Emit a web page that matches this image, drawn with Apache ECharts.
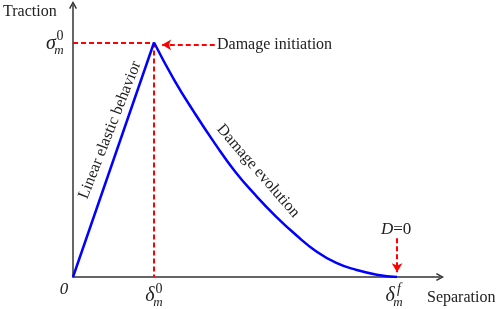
<!DOCTYPE html>
<html>
<head>
<meta charset="utf-8">
<script src="https://cdn.jsdelivr.net/npm/echarts@6/dist/echarts.min.js"></script>
<style>
  html, body { margin: 0; padding: 0; background: #fff; }
  #chart { width: 498px; height: 309px; }
</style>
</head>
<body>
<div id="chart"></div>
<script>
// separation in units of delta_m^0, traction in units of sigma_m^0
var delta0 = 1;
var deltaF = 4;
var sigma0 = 1;

// linear elastic branch
var linearX = [0, 1];
var linearY = [0, 1];

// damage evolution branch
var damageX = [1, 1.25, 1.5, 1.75, 2, 2.25, 2.5, 2.75, 3, 3.25, 3.5, 3.75, 4];
var damageY = [1, 0.84, 0.70, 0.57, 0.45, 0.35, 0.26, 0.18, 0.11, 0.06, 0.03, 0.01, 0];

var serif = "Liberation Serif";
var blue = "#0000ff";
var red = "#ff0000";
var ink = "#222";

var chart = echarts.init(document.getElementById("chart"));

function zip(xs, ys) {
  return xs.map(function (x, i) { return [x, ys[i]]; });
}

// open chevron for the axis ends
var chevron = "path://M0,9 L5,0 L10,9 L8.4,10 L5,3.6 L1.6,10 Z";

var option = {
  backgroundColor: "#fff",
  animation: false,
  grid: { left: 73, right: 58, top: 5, bottom: 32 },
  xAxis: {
    type: "value",
    min: 0,
    max: 4.53,
    axisLine: {
      show: true,
      symbol: ["none", chevron],
      symbolSize: [9, 8],
      lineStyle: { color: "#333", width: 1.5 }
    },
    axisTick: { show: false },
    axisLabel: { show: false },
    splitLine: { show: false }
  },
  yAxis: {
    type: "value",
    min: 0,
    max: 1.16,
    axisLine: {
      show: true,
      symbol: ["none", chevron],
      symbolSize: [9, 8],
      lineStyle: { color: "#333", width: 1.5 }
    },
    axisTick: { show: false },
    axisLabel: { show: false },
    splitLine: { show: false }
  },
  series: [
    {
      type: "line",
      data: zip(linearX, linearY),
      symbol: "none",
      lineStyle: { color: blue, width: 2.5 },
      z: 5,
      markLine: {
        silent: true,
        symbol: ["none", "none"],
        label: { show: false },
        lineStyle: { color: red, width: 2, type: [5, 3] },
        data: [
          [{ coord: [0, sigma0] }, { coord: [delta0, sigma0] }],
          [{ coord: [delta0, sigma0] }, { coord: [delta0, 0] }]
        ]
      }
    },
    {
      type: "line",
      data: zip(damageX, damageY),
      smooth: true,
      symbol: "none",
      lineStyle: { color: blue, width: 2.5 },
      z: 5,
      markLine: {
        silent: true,
        symbol: ["none", "arrow"],
        symbolSize: [8, 9],
        label: { show: false },
        lineStyle: { color: red, width: 2, type: [5, 3] },
        data: [
          [{ coord: [1.75, 0.99] }, { coord: [1.1, 0.99] }],
          [{ coord: [deltaF, 0.165] }, { coord: [deltaF, 0.02] }]
        ]
      }
    }
  ]
};

chart.setOption(option);

// symbol with superscript and subscript, anchored at a pixel point
function mathLabel(x, y, base, sup, sub, supItalic) {
  return {
    type: "group",
    x: x,
    y: y,
    children: [
      { type: "text", x: 0, y: 0, style: { text: base, font: "italic 20px " + serif, fill: ink, verticalAlign: "middle", align: "center" } },
      { type: "text", x: 9, y: -7, style: { text: sup, font: (supItalic ? "italic " : "") + "14px " + serif, fill: ink, verticalAlign: "middle", align: "center" } },
      { type: "text", x: 8, y: 7, style: { text: sub, font: "italic 13px " + serif, fill: ink, verticalAlign: "middle", align: "center" } }
    ]
  };
}

var peak = chart.convertToPixel({ gridIndex: 0 }, [delta0, sigma0]);
var origin = chart.convertToPixel({ gridIndex: 0 }, [0, 0]);
var fail = chart.convertToPixel({ gridIndex: 0 }, [deltaF, 0]);

chart.setOption({
  graphic: [
    { type: "text", left: 3, top: 4, style: { text: "Traction", font: "16px " + serif, fill: ink } },
    mathLabel(origin[0] - 22, peak[1] + 1, "σ", "0", "m"),
    { type: "text", x: origin[0] - 9, y: origin[1] + 13, style: { text: "0", font: "italic 17px " + serif, fill: ink, align: "center", verticalAlign: "middle" } },
    mathLabel(peak[0] - 4, origin[1] + 19, "δ", "0", "m"),
    mathLabel(fail[0] - 7, origin[1] + 19, "δ", "f", "m", true),
    { type: "text", x: 427, y: origin[1] + 21, style: { text: "Separation", font: "16px " + serif, fill: ink, verticalAlign: "middle" } },
    { type: "text", x: 217, y: peak[1] + 2, style: { text: "Damage initiation", font: "16px " + serif, fill: ink, verticalAlign: "middle" } },
    {
      type: "text", x: 381, y: 230,
      style: {
        text: "{i|D}{n|=0}",
        verticalAlign: "middle",
        rich: {
          i: { font: "italic 17px " + serif, fill: ink },
          n: { font: "17px " + serif, fill: ink }
        }
      }
    },
    { type: "text", x: 110, y: 130, rotation: 68.5 * Math.PI / 180, style: { text: "Linear elastic behavior", font: "16px " + serif, fill: ink, align: "center", verticalAlign: "middle" } },
    { type: "text", x: 258, y: 171, rotation: -49 * Math.PI / 180, style: { text: "Damage evolution", font: "16px " + serif, fill: ink, align: "center", verticalAlign: "middle" } }
  ]
});
</script>
</body>
</html>
